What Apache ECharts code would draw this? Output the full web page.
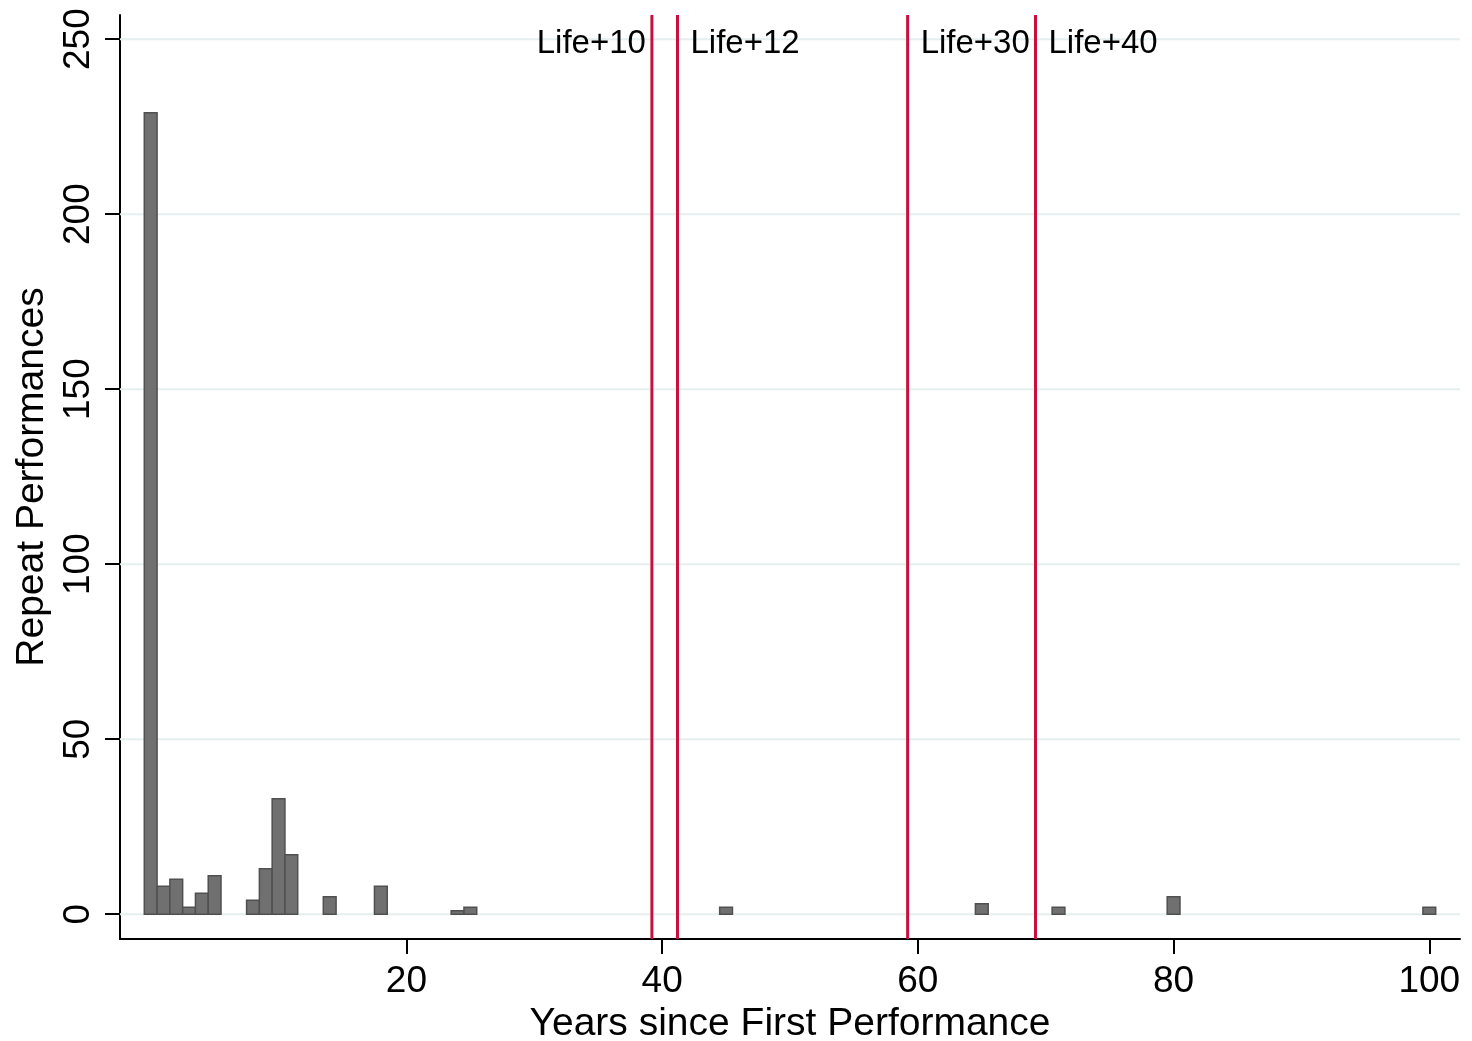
<!DOCTYPE html>
<html>
<head>
<meta charset="utf-8">
<script src="https://cdn.jsdelivr.net/npm/echarts@6/dist/echarts.min.js"></script>
<style>
  html, body { margin: 0; padding: 0; background: #ffffff; }
  #chart { width: 1472px; height: 1041px; }
</style>
</head>
<body>
<div id="chart"></div>
<script>
// histogram bins (bar centred on the year, width 1)
const years = [0, 1, 2, 3, 4, 5, 8, 9, 10, 11, 14, 18, 24, 25, 45, 65, 71, 80, 100];
const counts = [229, 8, 10, 2, 6, 11, 4, 13, 33, 17, 5, 8, 1, 2, 2, 3, 2, 5, 2];

// reference lines
const lifeYears = [39.2, 41.2, 59.2, 69.2];
const lifeLabels = ['Life+10', 'Life+12', 'Life+30', 'Life+40'];
const lifeSide = ['left', 'right', 'right', 'right'];

const xTicks = [20, 40, 60, 80, 100];
const yTicks = [0, 50, 100, 150, 200, 250];

const FONT = '"Liberation Sans", Arial, Helvetica, sans-serif';

const chart = echarts.init(document.getElementById('chart'));

const barData = years.map((y, i) => [y, counts[i]]);
const lineData = lifeYears.map((x, i) => [x, lifeLabels[i], lifeSide[i]]);

const option = {
    backgroundColor: '#ffffff',
    animation: false,
    textStyle: { fontFamily: FONT },
    grid: {
        left: 120,
        top: 15,
        width: 1340,
        height: 924,
        containLabel: false,
        outerBoundsMode: 'none'
    },
    xAxis: {
        type: 'value',
        min: -2.4,
        max: 102.4,
        name: 'Years since First Performance',
        nameLocation: 'middle',
        nameGap: 64,
        nameTextStyle: { fontSize: 39, color: '#000', fontFamily: FONT },
        axisLine: { show: true, onZero: false, lineStyle: { color: '#000', width: 2 } },
        axisTick: { show: true, length: 15, lineStyle: { color: '#000', width: 2 }, customValues: xTicks },
        axisLabel: { fontSize: 37, color: '#000', margin: 24, fontFamily: FONT, customValues: xTicks },
        splitLine: { show: false }
    },
    yAxis: {
        type: 'value',
        min: -7.1,
        max: 256.9,
        name: 'Repeat Performances',
        nameLocation: 'middle',
        nameGap: 65,
        nameTextStyle: { fontSize: 39, color: '#000', fontFamily: FONT },
        axisLine: { show: true, onZero: false, lineStyle: { color: '#000', width: 2 } },
        axisTick: { show: true, length: 15, lineStyle: { color: '#000', width: 2 }, customValues: yTicks },
        axisLabel: { fontSize: 37, color: '#000', margin: 23, rotate: 90, fontFamily: FONT, customValues: yTicks },
        splitLine: { show: false }
    },
    series: [
        {
            // horizontal grid lines
            type: 'custom',
            z: 1,
            silent: true,
            data: yTicks.map(v => [v]),
            renderItem: function (params, api) {
                const v = api.value(0);
                const a = api.coord([-2.4, v]);
                const b = api.coord([102.4, v]);
                return {
                    type: 'line',
                    shape: { x1: a[0], y1: a[1], x2: b[0], y2: b[1] },
                    style: { stroke: '#e6efef', lineWidth: 2 }
                };
            }
        },
        {
            type: 'custom',
            z: 3,
            data: barData,
            renderItem: function (params, api) {
                const x = api.value(0);
                const y = api.value(1);
                const p0 = api.coord([x - 0.5, y]);
                const p1 = api.coord([x + 0.5, 0]);
                return {
                    type: 'rect',
                    shape: { x: p0[0], y: p0[1], width: p1[0] - p0[0], height: p1[1] - p0[1] },
                    style: { fill: '#707070', stroke: '#505050', lineWidth: 1.5 }
                };
            }
        },
        {
            type: 'custom',
            z: 4,
            data: lineData,
            renderItem: function (params, api) {
                const x = api.value(0);
                const top = api.coord([x, 256.9]);
                const bottom = api.coord([x, -7.1]);
                const lab = api.coord([x, 248.6]);
                const side = lineData[params.dataIndex][2];
                const label = lineData[params.dataIndex][1];
                return {
                    type: 'group',
                    children: [
                        {
                            type: 'line',
                            shape: { x1: top[0], y1: top[1], x2: bottom[0], y2: bottom[1] },
                            style: { stroke: '#c8103e', lineWidth: 3 }
                        },
                        {
                            type: 'text',
                            x: side === 'left' ? lab[0] - 6 : lab[0] + 13,
                            y: lab[1],
                            style: {
                                text: label,
                                fill: '#000',
                                font: '33px ' + FONT,
                                align: side === 'left' ? 'right' : 'left',
                                verticalAlign: 'middle'
                            }
                        }
                    ]
                };
            }
        }
    ]
};

chart.setOption(option);
</script>
</body>
</html>
